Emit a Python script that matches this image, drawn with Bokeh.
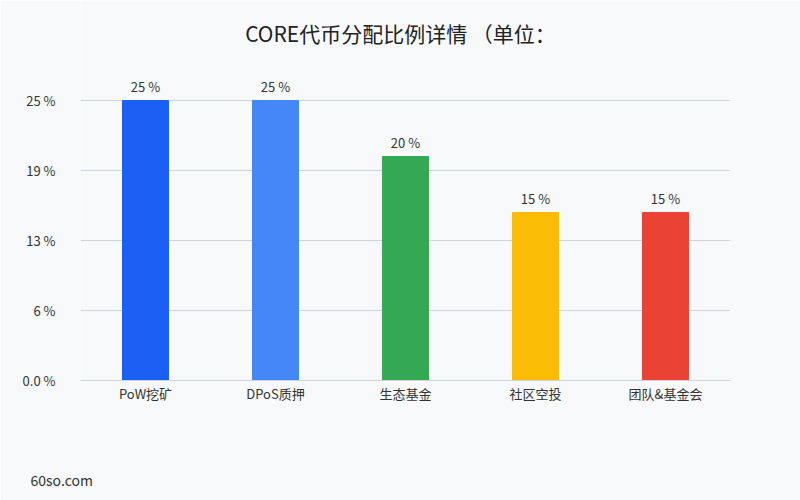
from bokeh.plotting import figure
from bokeh.models import ColumnDataSource, FixedTicker, Title, Range1d
from bokeh.embed import file_html
from bokeh.resources import INLINE

categories = ["PoW挖矿", "DPoS质押", "生态基金", "社区空投", "团队&基金会"]
values = [25, 25, 20, 15, 15]
colors = ["#1b5ff4", "#4487f6", "#34a853", "#fbbc05", "#ea4335"]
value_labels = ["25 %", "25 %", "20 %", "15 %", "15 %"]
y_ticks = [0, 6.25, 12.5, 18.75, 25]
y_tick_labels = ["0.0 %", "6 %", "13 %", "19 %", "25 %"]
title_text = "CORE代币分配比例详情 （单位："
watermark = "60so.com"

FONT = "Noto Sans CJK SC"
BG = "#f8f9fb"
GRID = "#cdd3e2"

# frame spans canvas top (0) to y=380; 11.2 px per percent
p = figure(x_range=categories, y_range=Range1d(0, 380 / 11.2), width=800, height=500,
           output_backend="svg", toolbar_location=None,
           min_border_left=80, min_border_right=70, min_border_top=0, min_border_bottom=120)
p.background_fill_color = BG
p.border_fill_color = BG
p.outline_line_color = None

src = ColumnDataSource(dict(cat=categories, val=values, col=colors, lab=value_labels))
p.vbar(x="cat", top="val", width=0.354, color="col", source=src)
p.text(x="cat", y="val", text="lab", source=src, y_offset=-5,
       text_align="center", text_baseline="bottom", text_font_size="13px",
       text_color="#333333", text_font={"value": FONT})

# chart title, centred over the canvas
p.text(x=[(400 - 80) / 130], y=[(380 - 32) / 11.2], text=[title_text],
       text_align="center", text_baseline="middle", text_font_size="21px",
       text_color="#222222", text_font={"value": FONT})

p.xgrid.grid_line_color = None
p.ygrid.grid_line_color = GRID
p.ygrid.grid_line_width = 1
p.yaxis.ticker = FixedTicker(ticks=y_ticks)
p.yaxis.major_label_overrides = {t: l for t, l in zip(y_ticks, y_tick_labels)}
p.yaxis.axis_line_color = None
p.yaxis.major_tick_line_color = None
p.yaxis.minor_tick_line_color = None
p.yaxis.major_tick_out = 0
p.yaxis.major_label_standoff = 25
p.yaxis.major_label_text_font_size = "13px"
p.yaxis.major_label_text_color = "#333333"
p.yaxis.major_label_text_font = FONT

p.xaxis.axis_line_color = GRID
p.xaxis.major_tick_line_color = None
p.xaxis.minor_tick_line_color = None
p.xaxis.major_tick_out = 0
p.xaxis.major_label_standoff = 3
p.xaxis.major_label_text_font_size = "13px"
p.xaxis.major_label_text_color = "#333333"
p.xaxis.major_label_text_font = FONT

# spacer, then the watermark below it
p.add_layout(Title(text=" ", text_font_size="54px", standoff=0), "below")
p.add_layout(Title(text=watermark, align="left", text_font_size="14px",
                   text_font=FONT, text_font_style="normal", text_color="#333333",
                   standoff=0, offset=-50), "below")

open("out.html", "w").write(file_html(p, INLINE))
